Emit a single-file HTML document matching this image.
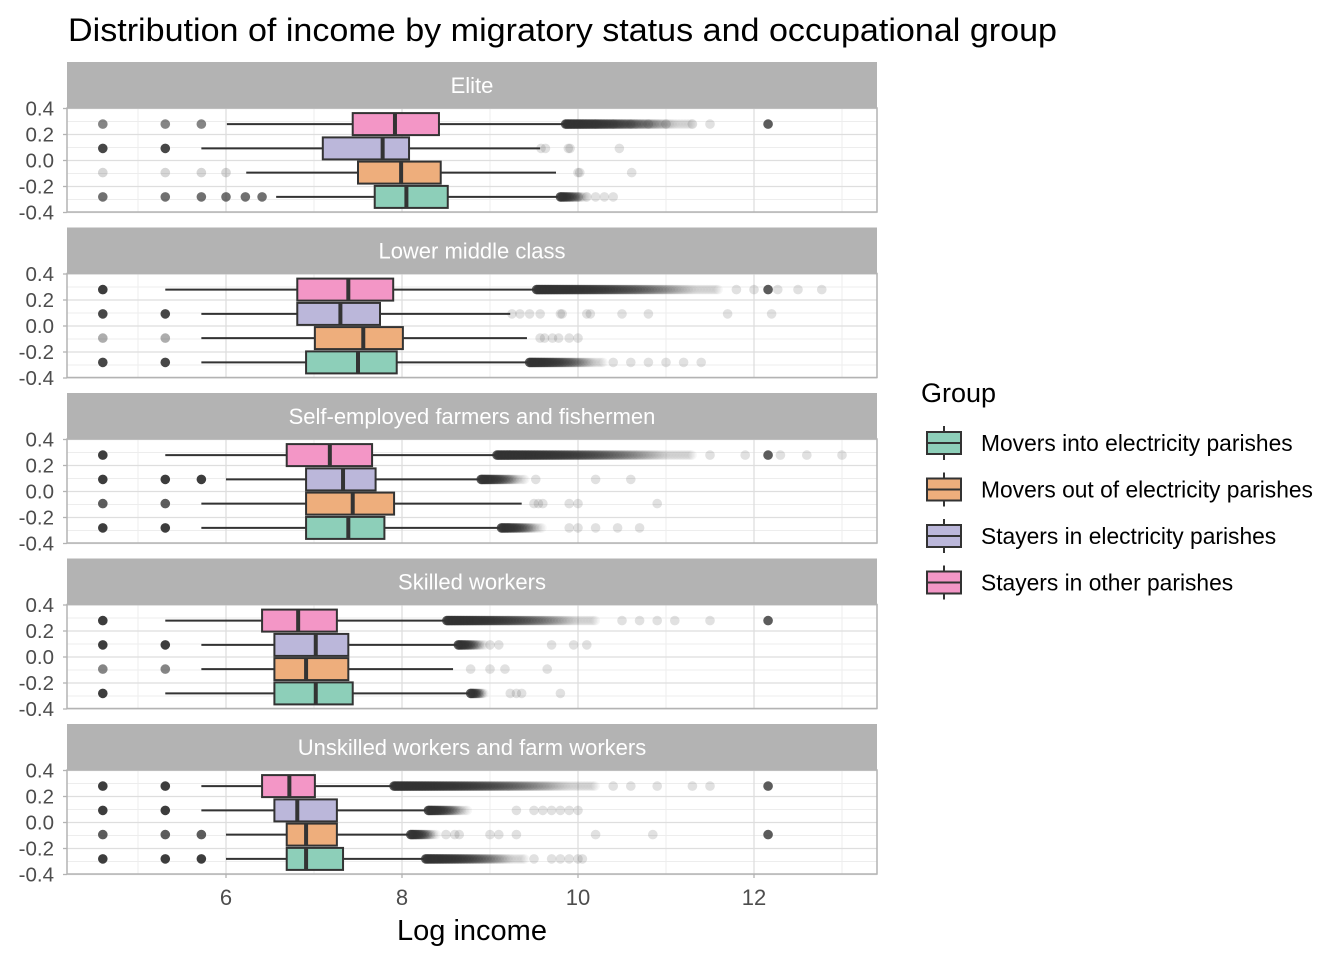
<!DOCTYPE html>
<html><head><meta charset="utf-8"><style>
body{margin:0;background:#fff;}
svg text{font-family:"Liberation Sans",Arial,sans-serif;}
</style></head><body>
<svg id="chart" width="1344" height="960" viewBox="0 0 1344 960" xmlns="http://www.w3.org/2000/svg">
<text x="68" y="41" font-size="32" textLength="989" lengthAdjust="spacingAndGlyphs" fill="#000">Distribution of income by migratory status and occupational group</text>
<g id="panels"></g>
<text x="472" y="940" font-size="29" text-anchor="middle" fill="#000">Log income</text>
<g id="legend"></g>
</svg>
<script>
const panelNames = ["Elite","Lower middle class","Self-employed farmers and fishermen","Skilled workers","Unskilled workers and farm workers"];
const groups = ["Movers into electricity parishes","Movers out of electricity parishes","Stayers in electricity parishes","Stayers in other parishes"];
const groupPos = [-0.28,-0.093,0.093,0.28];
const xTicks = [6,8,10,12];
const yTicks = [0.4,0.2,0.0,-0.2,-0.4];
const statsElite = [[6.57,7.69,8.05,8.52,9.77],[6.23,7.50,7.99,8.44,9.75],[5.72,7.10,7.78,8.08,9.57],[6.01,7.44,7.92,8.42,9.85]];
const statsLower = [[5.72,6.91,7.50,7.94,9.43],[5.72,7.01,7.56,8.01,9.42],[5.72,6.81,7.30,7.75,9.23],[5.31,6.81,7.39,7.90,9.52]];
const statsSelf = [[5.72,6.91,7.39,7.80,9.11],[5.72,6.91,7.44,7.91,9.36],[6.00,6.91,7.33,7.70,8.89],[5.31,6.69,7.18,7.66,9.07]];
const statsSkilled = [[5.31,6.55,7.02,7.44,8.77],[5.72,6.55,6.91,7.39,8.58],[5.72,6.55,7.02,7.39,8.63],[5.31,6.41,6.82,7.26,8.50]];
const statsUnskilled = [[6.00,6.69,6.91,7.33,8.25],[6.00,6.69,6.91,7.26,8.09],[5.72,6.55,6.81,7.26,8.27],[5.72,6.41,6.72,7.01,7.90]];
const allStats = [statsElite,statsLower,statsSelf,statsSkilled,statsUnskilled];
const lowElite = [[4.60,5.31,5.72,6.00,6.22,6.41],[4.60,5.31,5.72,6.00],[4.60,5.31],[4.60,5.31,5.72]];
const lowLower = [[4.60,5.31],[4.60,5.31],[4.60,5.31],[4.60]];
const lowSelf = [[4.60,5.31],[4.60,5.31],[4.60,5.31,5.72],[4.60]];
const lowSkilled = [[4.60],[4.60,5.31],[4.60,5.31],[4.60]];
const lowUnskilled = [[4.60,5.31,5.72],[4.60,5.31,5.72],[4.60,5.31],[4.60,5.31]];
const allLow = [lowElite,lowLower,lowSelf,lowSkilled,lowUnskilled];
const lowAlpha = [[0.7,0.2,0.9,0.6],[0.9,0.4,0.9,0.95],[0.95,0.8,0.95,0.95],[0.95,0.6,0.95,0.95],[0.95,0.8,0.95,0.95]];
const denseElite = [[9.8,10.1],null,null,[9.86,11.3]];
const denseLower = [[9.45,10.3],null,null,[9.53,11.6]];
const denseSelf = [[9.13,9.6],null,[8.9,9.4],[9.08,11.3]];
const denseSkilled = [[8.78,8.95],null,[8.64,8.95],[8.51,10.2]];
const denseUnskilled = [[8.27,9.4],[8.1,8.4],[8.3,8.75],[7.91,10.2]];
const allDense = [denseElite,denseLower,denseSelf,denseSkilled,denseUnskilled];
const highElite = [[10.0,10.1,10.2,10.3,10.4],[10.0,10.02,10.61],[9.58,9.63,9.89,9.91,10.47],[10.2,10.4,10.6,10.8,11.0,11.3,11.5,12.16]];
const highLower = [[10.4,10.6,10.8,11.0,11.2,11.4],[9.57,9.62,9.71,9.78,9.9,10.0],[9.25,9.34,9.45,9.57,9.8,9.82,10.1,10.14,10.5,10.8,11.7,12.2],[11.8,12.0,12.16,12.27,12.5,12.77]];
const highSelf = [[9.9,10.0,10.2,10.45,10.7],[9.5,9.55,9.6,9.9,10.0,10.9],[9.52,10.2,10.6],[11.5,11.9,12.16,12.3,12.6,13.0]];
const highSkilled = [[9.23,9.3,9.36,9.8],[8.78,9.0,9.17,9.65],[9.0,9.1,9.7,9.95,10.1],[10.5,10.7,10.9,11.1,11.5,12.16]];
const highUnskilled = [[9.5,9.7,9.8,9.9,10.0,10.05],[8.5,8.6,8.65,9.0,9.1,9.3,10.2,10.85,12.16],[9.3,9.5,9.6,9.7,9.8,9.9,10.0],[10.4,10.6,10.9,11.3,11.5,12.16]];
const allHigh = [highElite,highLower,highSelf,highSkilled,highUnskilled];

const fills = ["#8dcfb9","#eeae7c","#bbb7da","#f396c6"];
const panelTops = [108,273.5,439,604.5,770];
const PL=67, PR=877, PH=104;
function xs(v){return 226+(v-6)*88;}
function ys(top,v){return top+52.5-v*130;}
const NS="http://www.w3.org/2000/svg";
function mk(tag,attrs,parent){const e=document.createElementNS(NS,tag);for(const k in attrs)e.setAttribute(k,attrs[k]);parent.appendChild(e);return e;}
const root=document.getElementById('panels');

panelNames.forEach((name,p)=>{
  const top=panelTops[p];
  const g=mk('g',{},root);
  
  
  const strip=mk('rect',{x:PL,y:top-46,width:PR-PL,height:46,fill:'#b3b3b3'},g);
  
  
  const st=mk('text',{x:(PL+PR)/2,y:top-15,'font-size':22,fill:'#fff','text-anchor':'middle'},g);
  st.textContent=name;
  
  
  [5,7,9,11,13].forEach(v=>mk('line',{x1:xs(v),x2:xs(v),y1:top,y2:top+PH,stroke:'#ededed','stroke-width':1},g));
  [0.3,0.1,-0.1,-0.3].forEach(v=>mk('line',{x1:PL,x2:PR,y1:ys(top,v),y2:ys(top,v),stroke:'#ededed','stroke-width':1},g));
  xTicks.forEach(v=>mk('line',{x1:xs(v),x2:xs(v),y1:top,y2:top+PH,stroke:'#dedede','stroke-width':1.3},g));
  yTicks.forEach(v=>{
    mk('line',{x1:PL,x2:PR,y1:ys(top,v),y2:ys(top,v),stroke:'#dedede','stroke-width':1.3},g);
    mk('line',{x1:PL-4,x2:PL,y1:ys(top,v),y2:ys(top,v),stroke:'#b3b3b3','stroke-width':1.3},g);
    const t=mk('text',{x:54,y:ys(top,v)+7,'font-size':20.5,fill:'#4d4d4d','text-anchor':'end'},g);
    t.textContent=(v===0?'0.0':v.toFixed(1));
    
    
  });
  allStats[p].forEach((s,gi)=>{
    const cy=ys(top,groupPos[gi]);
    const bg=mk('g',{},g);
    
    
    const d=allDense[p][gi];
    if(d){
      for(let x=xs(d[0]);x<=xs(d[1]);x+=1.5){
        const frac=(x-xs(d[0]))/(xs(d[1])-xs(d[0])+1);
        mk('circle',{cx:x,cy:cy,r:4.8,fill:'#333','fill-opacity':Math.max(0.04,0.8*Math.pow(1-frac,1.5))},bg);
      }
    }
    allHigh[p][gi].forEach(v=>mk('circle',{cx:xs(v),cy:cy,r:4.8,fill:'#333','fill-opacity':v>12.1&&v<12.2?0.8:0.15},bg));
    allLow[p][gi].forEach(v=>mk('circle',{cx:xs(v),cy:cy,r:4.8,fill:'#333','fill-opacity':lowAlpha[p][gi]},bg));
    mk('line',{x1:xs(s[0]),x2:xs(s[1]),y1:cy,y2:cy,stroke:'#333','stroke-width':2},bg);
    mk('line',{x1:xs(s[3]),x2:xs(s[4]),y1:cy,y2:cy,stroke:'#333','stroke-width':2},bg);
    mk('rect',{x:xs(s[1]),y:cy-11,width:xs(s[3])-xs(s[1]),height:22,fill:fills[gi],stroke:'#333','stroke-width':2},bg);
    mk('line',{x1:xs(s[2]),x2:xs(s[2]),y1:cy-11,y2:cy+11,stroke:'#333','stroke-width':4},bg);
  });
  mk('rect',{x:PL,y:top,width:PR-PL,height:PH,fill:'none',stroke:'#b3b3b3','stroke-width':1.5},g);
});
const last=panelTops[4]+PH;
xTicks.forEach(v=>{
  mk('line',{x1:xs(v),x2:xs(v),y1:last,y2:last+4,stroke:'#b3b3b3','stroke-width':1.3},root);
  const t=mk('text',{x:xs(v),y:last+31,'font-size':22,fill:'#4d4d4d','text-anchor':'middle'},root);
  t.textContent=v;
  
  
});
const lg=document.getElementById('legend');
const lt=mk('text',{x:921,y:402,'font-size':27,fill:'#000'},lg);
lt.textContent='Group';


groups.forEach((name,i)=>{
  const cy=443+i*46.5;
  const e=mk('g',{},lg);
  
  
  mk('line',{x1:944,x2:944,y1:cy-17,y2:cy+17,stroke:'#333','stroke-width':2},e);
  mk('rect',{x:927,y:cy-11,width:34,height:22,fill:fills[i],stroke:'#333','stroke-width':2},e);
  mk('line',{x1:927,x2:961,y1:cy,y2:cy,stroke:'#333','stroke-width':2},e);
  const t=mk('text',{x:981,y:cy+8,'font-size':22.8,fill:'#000'},e);
  t.textContent=name;
});
</script>
</body></html>
